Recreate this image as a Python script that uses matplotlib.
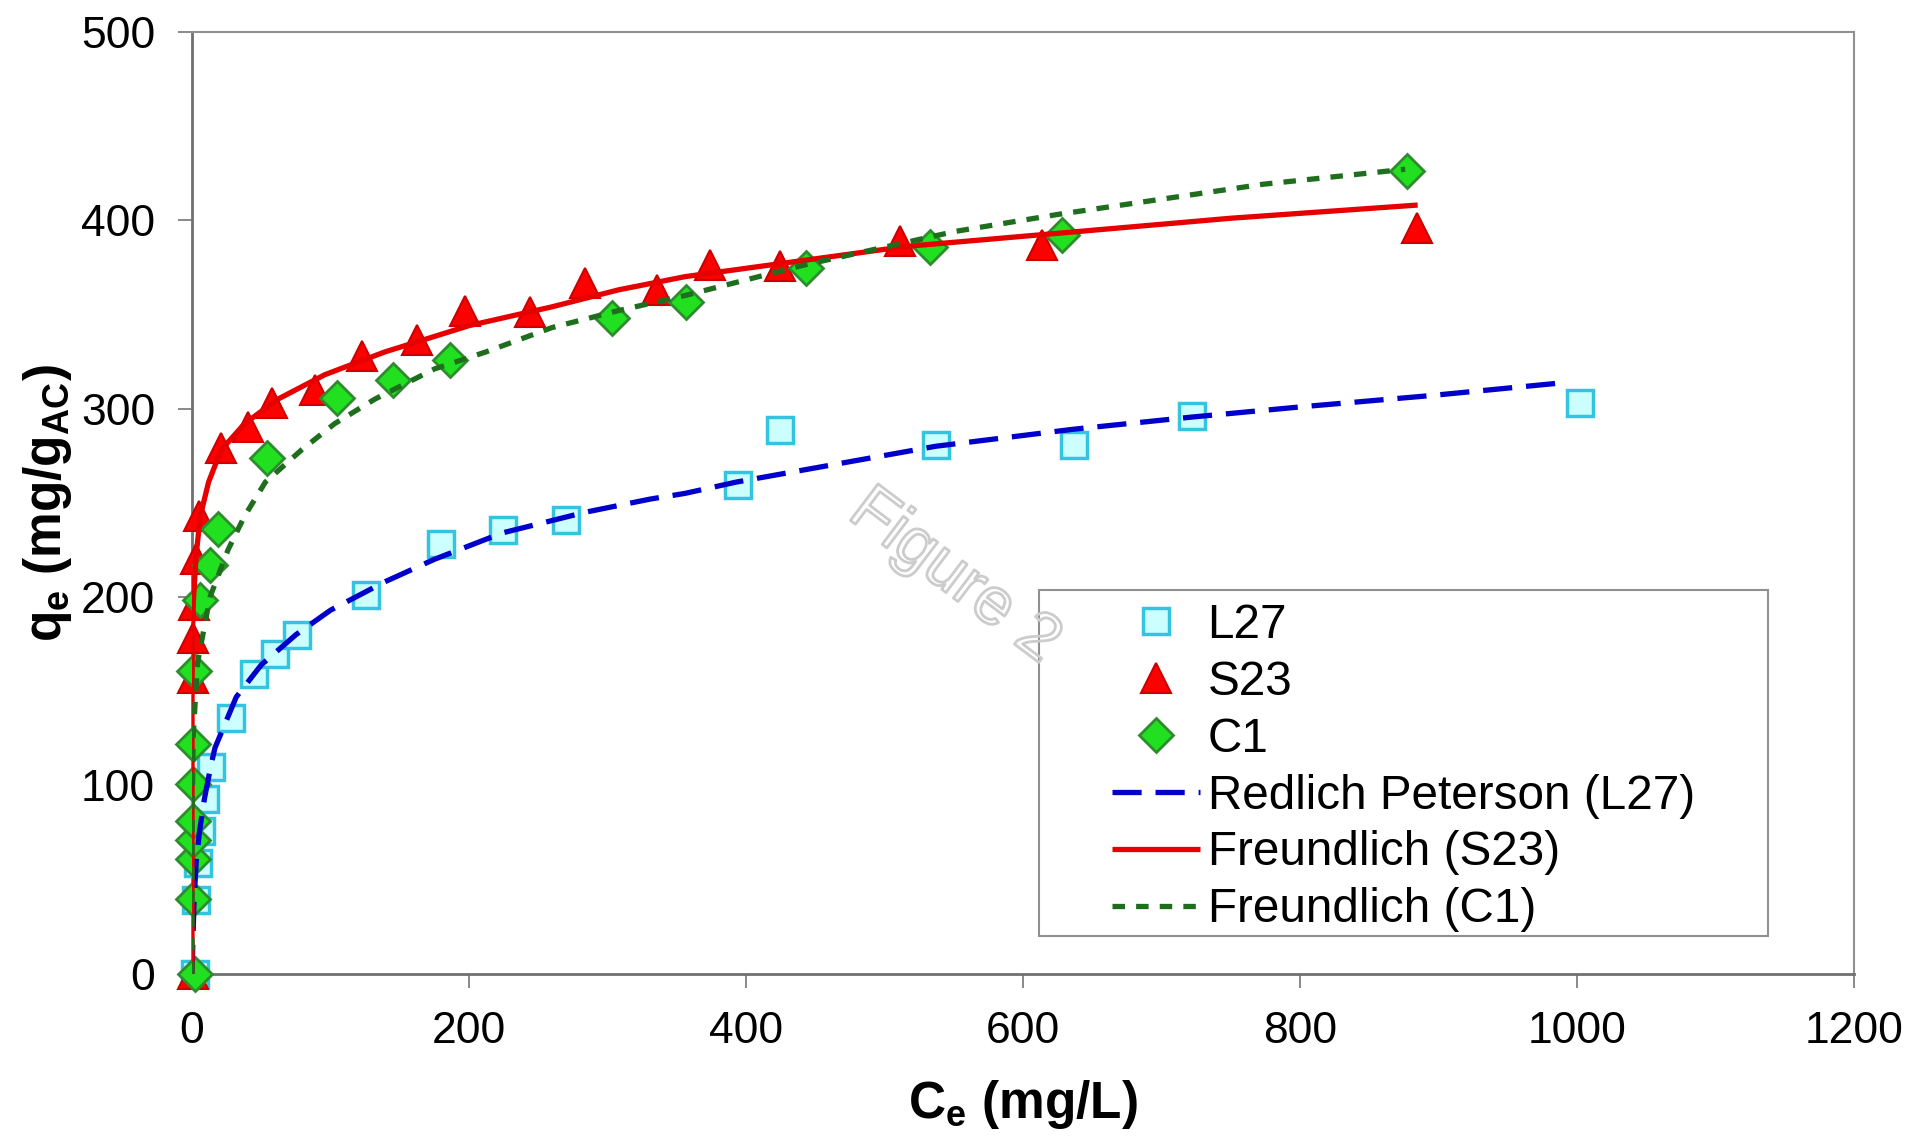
import matplotlib
matplotlib.use('Agg')
import matplotlib.pyplot as plt
import matplotlib.patheffects as pe
from matplotlib.patches import Rectangle

plt.rcParams['font.family'] = ['Liberation Sans', 'DejaVu Sans']
plt.rcParams['mathtext.fontset'] = 'custom'
plt.rcParams['mathtext.rm'] = 'Liberation Sans'
plt.rcParams['mathtext.bf'] = 'Liberation Sans:bold'
plt.rcParams['lines.scale_dashes'] = False

# measured points (Ce in mg/L, qe in mg/g)
l27_ce = [2, 3, 4.5, 6.5, 9.4, 13.7, 28, 45, 60, 75.6, 126, 180, 224.8, 270,
          394, 424.5, 537, 636.5, 722, 1002]
l27_qe = [0, 39, 59, 76, 93, 110, 136, 159, 170, 180, 201, 228, 235.7, 241,
          259.6, 288.7, 280.8, 280.8, 296, 303]

s23_ce = [1, 0.5, 1, 1.5, 3, 5, 21, 40.6, 57.5, 89, 122.5, 162.5, 197, 244,
          283.7, 336, 374, 424.5, 511, 613.7, 884.5]
s23_qe = [0, 157, 178, 196, 220, 243, 279, 290, 303, 310, 327.7, 336.5, 352, 351,
          366.6, 363, 376, 375.4, 388.7, 387, 396]

c1_ce = [2, 1, 1, 1, 1, 1, 1, 1.5, 5.8, 13, 19, 54, 104.5, 145, 186, 303, 357,
         443, 533, 628, 877]
c1_qe = [0, 40, 61, 71, 81, 101, 122, 161, 198.5, 217, 236, 274, 305.6, 315, 326,
         348, 356.5, 374.6, 386, 392, 426]

# fitted curves
rp_ce = [0, 1.5, 3, 5.5, 9, 13.5, 16.6, 32, 50, 75, 100, 139, 175, 224, 284, 331,
         356, 393, 537, 636, 722, 802, 896, 994]
rp_qe = [0, 39, 59, 76, 93, 110, 120, 147, 164, 180, 193, 208, 220, 234, 245, 252,
         255, 261, 280, 289, 295.5, 301, 307, 314]

fs_ce = [0, 0.05, 0.3, 1, 3, 6, 12, 21, 38, 62, 96, 139, 200, 260, 308, 356, 515,
         625, 750, 885]
fs_qe = [0, 150, 180, 198, 222, 243, 261, 278, 292, 305, 318, 330, 344, 354, 363,
         370, 386, 393, 401, 408]

fc_ce = [0, 0.1, 1, 4, 13, 26, 38, 53, 79, 103, 132, 175, 212, 260, 308, 356, 441,
         551, 625, 773, 876]
fc_qe = [0, 85, 128, 165, 200, 225, 243, 261, 278, 292, 305, 321, 330, 343, 352,
         360, 376, 394, 403, 419, 427]

fig = plt.figure(figsize=(19.16, 11.43), dpi=100)
ax = fig.add_axes([0.1002, 0.1479, 0.8674, 0.8244])

h1, = ax.plot(l27_ce, l27_qe, 's', ms=19, mfc='#CCFFFF', mec='#33C4E0', mew=2.5,
              ls='none', clip_on=False, zorder=3, label='L27')
h2, = ax.plot(s23_ce, s23_qe, '^', ms=22, mfc='#FF0000', mec='#CC0000', mew=1.5,
              ls='none', clip_on=False, zorder=3, label='S23')
h3, = ax.plot(c1_ce, c1_qe, 'D', ms=17, mfc='#20E020', mec='#2E8B2E', mew=2,
              ls='none', clip_on=False, zorder=3, label='C1')
h4, = ax.plot(rp_ce, rp_qe, color='#0000CC', lw=3.8, dashes=(21, 10),
              zorder=4, label='Redlich Peterson (L27)')
h5, = ax.plot(fs_ce, fs_qe, color='#E60000', lw=3.8, solid_capstyle='butt',
              zorder=4, label='Freundlich (S23)')
h6, = ax.plot(fc_ce, fc_qe, color='#1E6E1E', lw=3.8, dashes=(9, 8),
              zorder=4, label='Freundlich (C1)')

ax.set_xlim(0, 1200)
ax.set_ylim(0, 500)
ax.set_xticks(range(0, 1201, 200))
ax.set_yticks(range(0, 501, 100))
ax.tick_params(direction='out', length=10, width=1.3, color='#808080',
               labelsize=32, pad=16.5)
for s in ['left', 'bottom']:
    ax.spines[s].set_color('#707070')
    ax.spines[s].set_linewidth(2)
for s in ['top', 'right']:
    ax.spines[s].set_color('#909090')
    ax.spines[s].set_linewidth(1.5)

ax.set_xlabel(r'C$_\mathbf{e}$ (mg/L)', fontsize=37, fontweight='bold')
ax.set_ylabel(r'q$_\mathbf{e}$ (mg/g$_\mathbf{AC}$)', fontsize=37, fontweight='bold')
ax.xaxis.set_label_coords(0.5, -0.110)
ax.yaxis.set_label_coords(-0.071, 0.5)

ax.add_patch(Rectangle((0.5096, 0.0403), 0.4384, 0.3672, transform=ax.transAxes,
                       facecolor='white', edgecolor='#909090', lw=1.5, zorder=5))
leg = ax.legend(handles=[h1, h2, h3, h4, h5, h6], loc='center',
                bbox_to_anchor=(0.729, 0.219), frameon=False, fontsize=34.3,
                handlelength=1.85, handletextpad=0.15, labelspacing=0.25,
                borderpad=0)
leg.set_zorder(6)

# watermark sits on top of everything
ax.text(0.4585, 0.421, 'Figure 2', transform=ax.transAxes, rotation=-37,
        fontsize=48, color='none', ha='center', va='center', zorder=10,
        path_effects=[pe.Stroke(linewidth=2.0, foreground='#CCCCCC'), pe.Normal()])

fig.savefig('out.png', dpi=100)
